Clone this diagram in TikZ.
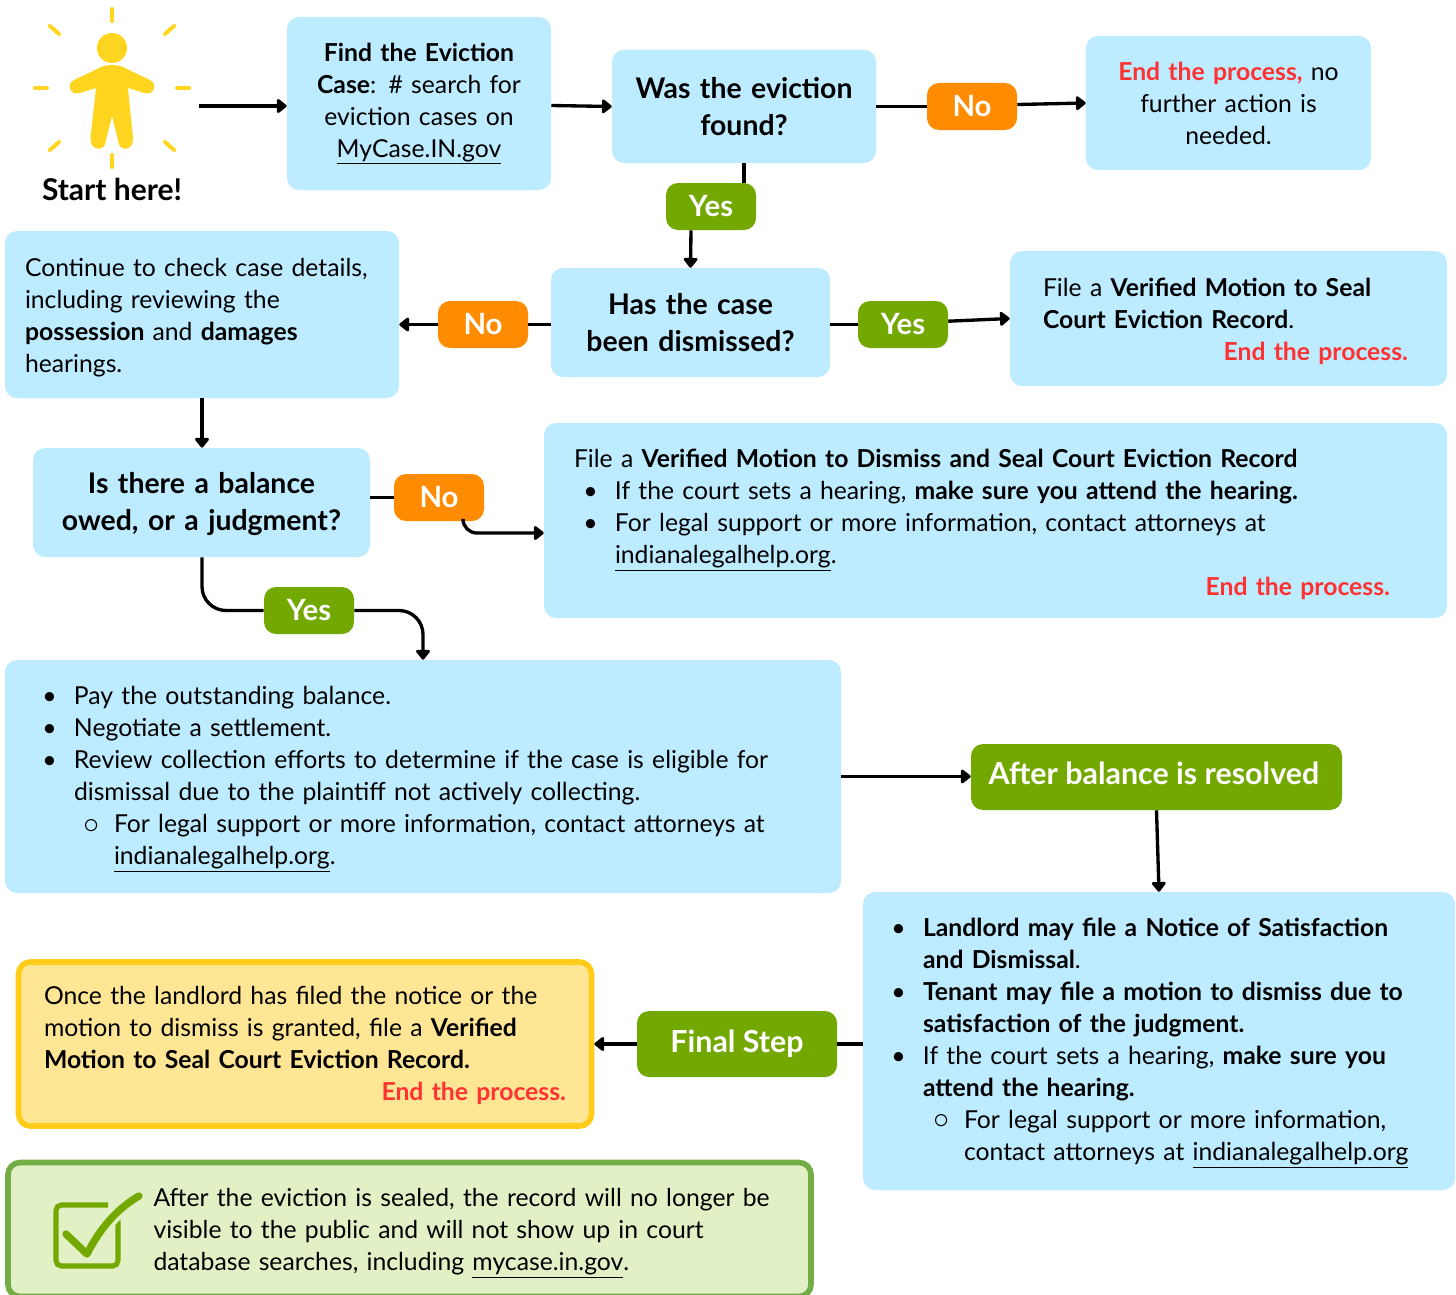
\documentclass[tikz,border=0pt]{standalone}
\usepackage{fontspec}
\setmainfont{Lato}
\newfontfamily\symfont{DejaVu Sans}
\usetikzlibrary{positioning, arrows.meta}
\definecolor{skyfill}{HTML}{BDEBFF}
\definecolor{orangepill}{HTML}{FF8C00}
\definecolor{greenpill}{HTML}{73A800}
\definecolor{sunny}{HTML}{FFD51F}
\definecolor{notefill}{HTML}{FFE694}
\definecolor{noteline}{HTML}{FFCC1A}
\definecolor{sealfill}{HTML}{E1F0C5}
\definecolor{sealline}{HTML}{74AC45}
\definecolor{endred}{HTML}{FF3131}
\def\px{*0.75pt}
\newcommand{\indentpx}[1]{\hspace*{0.75\dimexpr#1pt\relax}}
\newcommand{\bulone}[2]{\indentpx{#1}\llap{\textbullet\hspace{13pt}}#2}
\newcommand{\bultwo}[2]{\indentpx{#1}\llap{\raisebox{-4pt}[0pt][0pt]{\symfont\bfseries\fontsize{26}{26}\selectfont\char"25E6}\hspace{8.8pt}}#2}
\newcommand{\finish}[2]{\hbox to \linewidth{\hfil\textcolor{endred}{\bfseries #2}\indentpx{#1}}}
\tikzset{
    on grid,
    >={Triangle[length=8pt,width=12pt,round]},
    txt/.style={font=\fontsize{18.55}{24}\selectfont, text=black},
    flowbox/.style n args={3}{txt, fill=skyfill, rounded corners=12\px, inner sep=0pt,
        minimum width=#1\px, minimum height=#2\px, text width=#3\px},
    dropby/.style={execute at begin node={\rule{0pt}{\dimexpr13.5pt+#1pt\relax}}},
    askbox/.style={font=\bfseries\fontsize{21.3}{27.5}\selectfont, align=center},
    pill/.style n args={3}{fill=#1, rounded corners=12\px, inner sep=0pt, text=white,
        font=\bfseries\fontsize{#3}{24}\selectfont, minimum width=#2\px, minimum height=47\px},
    flowline/.style={line width=2.5pt},
    rayline/.style={line width=3pt, draw=sunny, line cap=round},
}
\begin{document}
\begin{tikzpicture}[x=0.75pt, y=-0.75pt]
    \useasboundingbox (0,0) rectangle (1456,1295);

    % start figure
    \fill[sunny] (112,48) circle (15);
    \fill[sunny] (112,65) .. controls (105,65) and (100,67) .. (95,70) -- (74,80)
        .. controls (66,84) and (70,96) .. (80,93) -- (96,88) -- (90.5,138)
        .. controls (90,152) and (106,152) .. (106,140) -- (112,116) -- (118,140)
        .. controls (118,152) and (134,152) .. (133,138) -- (128,88) -- (144,93)
        .. controls (154,96) and (158,84) .. (150,80) -- (129,70)
        .. controls (124,67) and (119,65) .. (112,65) -- cycle;
    \draw[rayline] (112,9) -- (112,21);
    \draw[rayline] (112,155) -- (112,167);
    \draw[rayline] (35,88) -- (47,88);
    \draw[rayline] (177,88) -- (189,88);
    \draw[rayline] (50,26) -- (59,34);
    \draw[rayline] (174,26) -- (165,34);
    \draw[rayline] (59,142) -- (50,150);
    \draw[rayline] (165,142) -- (174,150);
    \node[txt, font=\bfseries\fontsize{22.5}{24}\selectfont] (starthere) at (112,189) {Start here!};
    \coordinate (startpt) at (199,106);

    % boxes
    \node[flowbox={264}{173}{250}, align=center] (find) at (419,103.5)
        {\textbf{Find the Eviction}\\ \textbf{Case}: \# search for\\ eviction cases on\\ \underline{MyCase.IN.gov}};
    \node[flowbox={264}{113}{250}, askbox, below right=3\px and 325\px of find] (evfound)
        {Was the eviction\\ found?};
    \node[pill={orangepill}{90}{22}, right=228\px of evfound] (noa) {No};
    \node[flowbox={285}{134}{275}, align=center, dropby=1.5, above right=3.5\px and 256.5\px of noa] (endno)
        {\textcolor{endred}{\textbf{End the process,}} no\\ further action is\\ needed.};
    \node[pill={greenpill}{90}{22}, below left=100\px and 33\px of evfound] (yesa) {Yes};
    \node[flowbox={279}{109}{265}, askbox, below left=116\px and 20.5\px of yesa] (dismissed)
        {Has the case\\ been dismissed?};
    \node[pill={orangepill}{90}{22}, below left=2\px and 207.5\px of dismissed] (nob) {No};
    \node[flowbox={394}{167}{354}, align=left, dropby=4.5, above left=10\px and 281\px of nob] (details)
        {Continue to check case details,\\ including reviewing the\\ \textbf{possession} and \textbf{damages}\\ hearings.};
    \node[pill={greenpill}{90}{22}, below right=2\px and 212.5\px of dismissed] (yesb) {Yes};
    \node[flowbox={437}{135}{371}, align=left, dropby=4.5, above right=6\px and 325.5\px of yesb] (sealrec)
        {File a \textbf{Verified Motion to Seal}\\ \textbf{Court Eviction Record}.\\ \finish{6}{End the process.}};
    \node[flowbox={337}{109}{325}, askbox, dropby=5, below left=188\px and 0.5\px of details] (balance)
        {Is there a balance\\ owed, or a judgment?};
    \node[pill={orangepill}{90}{22}, above right=5\px and 237.5\px of balance] (noc) {No};
    \node[flowbox={903}{195}{843}, align=left, dropby=6, below right=23\px and 556.5\px of noc] (dismissseal)
        {File a \textbf{Verified Motion to Dismiss and Seal Court Eviction Record}\\
         \bulone{41}{If the court sets a hearing, \textbf{make sure you attend the hearing.}}\\
         \bulone{41}{For legal support or more information, contact attorneys at}\\
         \indentpx{41}\underline{indianalegalhelp.org}.\\
         \finish{27}{End the process.}};
    \node[pill={greenpill}{90}{22}, below right=108\px and 107.5\px of balance] (yesc) {Yes};
    \node[flowbox={836}{233}{796}, align=left, dropby=4.5, below right=166\px and 114\px of yesc] (pay)
        {\bulone{49}{Pay the outstanding balance.}\\
         \bulone{49}{Negotiate a settlement.}\\
         \bulone{49}{Review collection efforts to determine if the case is eligible for}\\
         \indentpx{49}dismissal due to the plaintiff not actively collecting.\\
         \bultwo{89}{For legal support or more information, contact attorneys at}\\
         \indentpx{89}\underline{indianalegalhelp.org}.};
    \node[pill={greenpill}{371}{22.8}, minimum height=66\px, below right=0.5\px and 733.5\px of pay] (resolved)
        {\raisebox{6pt}{After balance is resolved}\hspace*{4pt}};
    \node[flowbox={592}{298}{552}, align=left, dropby=3, below right=264\px and 2.5\px of resolved] (landlord)
        {\bulone{40}{\textbf{Landlord may file a Notice of Satisfaction}}\\
         \indentpx{40}\textbf{and Dismissal}.\\
         \bulone{40}{\textbf{Tenant may file a motion to dismiss due to}}\\
         \indentpx{40}\textbf{satisfaction of the judgment.}\\
         \bulone{40}{If the court sets a hearing, \textbf{make sure you}}\\
         \indentpx{40}\textbf{attend the hearing.}\\
         \bultwo{81}{For legal support or more information,}\\
         \indentpx{81}contact attorneys at \underline{indianalegalhelp.org}};
    \node[pill={greenpill}{200}{22.8}, minimum height=66\px, below left=3\px and 422\px of landlord] (finalstep)
        {Final Step};
    \node[flowbox={573}{164}{522}, align=left, dropby=3, fill=notefill, draw=noteline, line width=4.2pt,
        left=432\px of finalstep] (note)
        {Once the landlord has filed the notice or the\\
         motion to dismiss is granted, file a \textbf{Verified}\\
         \textbf{Motion to Seal Court Eviction Record.}\\
         \finish{0}{End the process.}};
    \node[flowbox={803}{134}{766}, align=left, dropby=6, fill=sealfill, draw=sealline, line width=4.2pt,
        below right=185.5\px and 104.5\px of note] (sealed)
        {\indentpx{127}After the eviction is sealed, the record will no longer be\\
         \indentpx{127}visible to the public and will not show up in court\\
         \indentpx{127}database searches, including \underline{mycase.in.gov}.};

    % check mark
    \draw[greenpill, line width=3.8pt, rounded corners=4pt] (108,1205) -- (56,1205) -- (56,1266) -- (118,1266) -- (118,1216);
    \draw[sealfill, line width=11pt, line cap=round] (87,1254) .. controls (100,1228) and (118,1208) .. (139,1196);
    \draw[greenpill, line width=5.5pt, line cap=round, line join=round] (66,1234) -- (87,1254)
        .. controls (100,1228) and (118,1208) .. (139,1196);

    \path[flowline]
        (evfound.east) edge (noa.west)
        (evfound.south) edge ([xshift=33\px]yesa.north)
        (dismissed.west |- nob) edge (nob.east)
        (dismissed.east |- yesb) edge (yesb.west)
        (balance.east |- noc) edge (noc.west)
        (landlord.west |- finalstep) edge (finalstep.east);

    \path[flowline, ->]
        (startpt) edge (startpt -| find.west)
        ([yshift=-2\px]find.east) edge (evfound.west)
        ([yshift=2\px]noa.east) edge (endno.west)
        ([xshift=-20\px]yesa.south) edge (dismissed.north)
        (nob.west) edge (nob.west -| details.east)
        ([yshift=3.3\px]yesb.east) edge (sealrec.west)
        (details.south) edge (details.south |- balance.north)
        (pay.east) edge (pay.east -| resolved.west)
        (resolved.south) edge (landlord.north)
        (finalstep.west) edge (finalstep.west -| note.east);

    \draw[flowline, ->, rounded corners=14\px] ([xshift=24\px]noc.south) |- (dismissseal.west |- 0,533);
    \draw[flowline, rounded corners=24\px] (details.south |- balance.south) |- (yesc.west);
    \draw[flowline, ->, rounded corners=24\px] (yesc.east) -| (pay.north);
\end{tikzpicture}
\end{document}
